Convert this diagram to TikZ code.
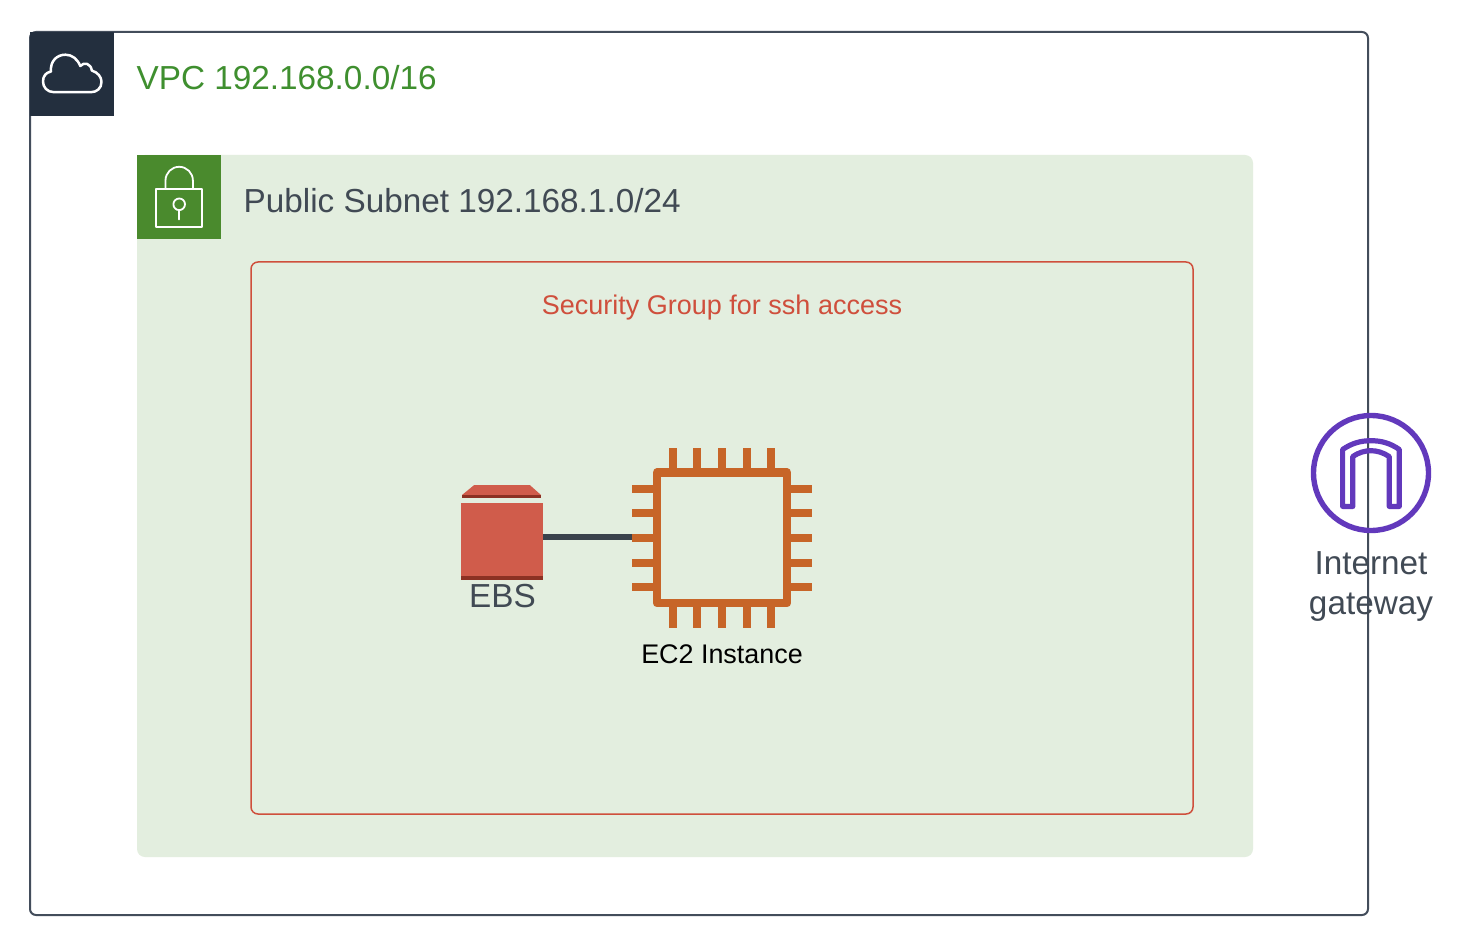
\documentclass[tikz,border=0pt]{standalone}
\usepackage{fontspec}
\setmainfont{Liberation Sans}
\definecolor{vpcline}{HTML}{434D5B}
\definecolor{vpcdark}{HTML}{232F3E}
\definecolor{subnetbg}{HTML}{E3EEDF}
\definecolor{subnetgreen}{HTML}{4A8A2D}
\definecolor{vpcgreen}{HTML}{3F8F2F}
\definecolor{sgred}{HTML}{CF4F3C}
\definecolor{ecorange}{HTML}{C76528}
\definecolor{ebsred}{HTML}{D05C4B}
\definecolor{ebsdark}{HTML}{8C3123}
\definecolor{connector}{HTML}{3A424C}
\definecolor{gwpurple}{HTML}{6239BC}
\definecolor{txtgrey}{HTML}{414A54}
\tikzset{
  big/.style={font=\fontsize{33.3}{40}\selectfont,inner sep=0pt,anchor=base west},
  small/.style={font=\fontsize{26.9}{32}\selectfont,inner sep=0pt,anchor=base},
  iconline/.style={draw=white,line join=round,line cap=round},
  pin/.style={draw=ecorange,line width=8pt},
}
\begin{document}
\begin{tikzpicture}[x=1pt,y=-1pt]
\useasboundingbox[fill=white] (0,0) rectangle (1460,952);
% VPC
\draw[vpcline,line width=2pt,rounded corners=6pt] (30,32) rectangle (1368,915);
\node[fill=vpcdark,minimum size=84pt,inner sep=0pt,anchor=north west] (vpcicon) at (30,32) {};
\draw[iconline,line width=2.5pt] (54,92.2) .. controls (47,92.2) and (43,87) .. (43,81.5)
  .. controls (43,76) and (46,72.5) .. (51,71.5)
  .. controls (50,61) and (57,54.7) .. (65.5,54.7)
  .. controls (72,54.7) and (77.5,59) .. (80.3,66)
  .. controls (84,61.5) and (91,63.5) .. (91.8,70.5)
  .. controls (98,72.5) and (101.5,77) .. (101.5,82)
  .. controls (101.5,88) and (97,92.2) .. (91,92.2) -- cycle;
\node[big,text=vpcgreen] (vpclabel) at (136.5,90) {VPC 192.168.0.0/16};
% Subnet
\fill[subnetbg,rounded corners=8pt] (137,155) rectangle (1253,857);
\node[fill=subnetgreen,minimum size=84pt,inner sep=0pt,anchor=north west] (subneticon) at (137,155) {};
\draw[iconline,line width=1.8pt] (156.3,188.7) rectangle (202.2,227.4);
\draw[iconline,line width=1.8pt] (165.5,188.7) -- (165.5,180.5) arc[start angle=180,end angle=360,radius=13.7] -- (192.9,188.7);
\draw[iconline,line width=1.8pt] (179.2,204.3) circle[radius=5.8];
\draw[iconline,line width=1.8pt] (179.2,210.1) -- (179.2,219.5);
\node[big,text=txtgrey] (subnetlabel) at (243.5,212.5) {Public Subnet 192.168.1.0/24};
% Security group
\draw[sgred,line width=1.5pt,rounded corners=7pt] (251,262) rectangle (1193,814);
\node[small,text=sgred,font=\fontsize{27}{32}\selectfont] (sglabel) at (722,314) {Security Group for ssh access};
% EBS
\node[minimum width=82pt,minimum height=87.4pt,inner sep=0pt] (ebs) at (502,536.7) {};
\node[minimum size=180pt,inner sep=0pt] (ec2) at (722,538) {};
\draw[connector,line width=5.8pt] (ebs.east) -- (ebs.east -| ec2.west);
\fill[ebsred] (461,503) rectangle (543,576);
\fill[ebsdark] (461,576) rectangle (543,580);
\fill[ebsred] (462,495) -- (474,485.2) -- (530,485.2) -- (541,495) -- cycle;
\fill[ebsdark] (462,495) rectangle (541,498.3);
\node[big,anchor=base,text=txtgrey] (ebslabel) at (502.5,607) {EBS};
% EC2
\foreach \p in {673,697,722,746.7,771} {
  \draw[pin] (\p,448) -- (\p,470);
  \draw[pin] (\p,606) -- (\p,628);
}
\foreach \p in {488.7,513,537.7,562.7,586.7} {
  \draw[pin] (632,\p) -- (655,\p);
  \draw[pin] (789,\p) -- (812,\p);
}
\draw[ecorange,line width=8.5pt,line join=round] (657,472.5) rectangle (787,603);
\node[small,text=black] (ec2label) at (722,663.5) {EC2 Instance};
% Internet gateway
\node[circle,draw=gwpurple,line width=5.4pt,minimum size=115pt,inner sep=0pt] (igw) at (1371,473) {};
\draw[gwpurple,line width=5.2pt,line join=round] (1342.6,506.4) -- (1342.6,449.5)
  .. controls (1352,443) and (1361,440.7) .. (1371,440.7)
  .. controls (1381,440.7) and (1390,443) .. (1399.3,449.5)
  -- (1399.3,506.4) -- (1389.2,506.4) -- (1389.2,456.5)
  .. controls (1383,452.5) and (1377,450.7) .. (1371,450.7)
  .. controls (1365,450.7) and (1358.5,452.5) .. (1352.8,456.5)
  -- (1352.8,506.4) -- cycle;
\node[font=\fontsize{33.3}{40}\selectfont,inner sep=0pt,align=center,anchor=base,text=txtgrey!85!vpcline] (igwlabel) at (1371,614) {Internet\\gateway};
\end{tikzpicture}
\end{document}
